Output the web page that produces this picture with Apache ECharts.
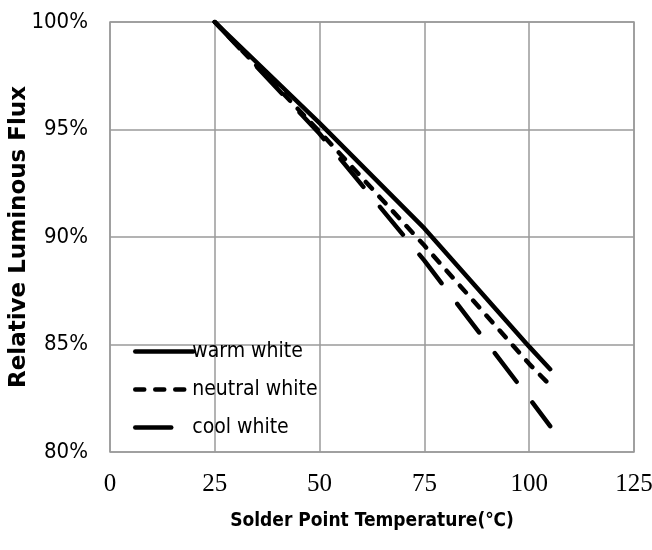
<!DOCTYPE html>
<html>
<head>
<meta charset="utf-8">
<script src="https://cdn.jsdelivr.net/npm/echarts@6/dist/echarts.min.js"></script>
<style>html,body{margin:0;padding:0;background:#fff}#c{width:652px;height:550px}</style>
</head>
<body>
<div id="c"></div>
<script>
var temps = [25, 50, 75, 100, 105];
var warmWhite = [100, 95.3, 90.4, 84.9, 83.85];
var neutralWhite = [100, 94.9, 89.6, 84.1, 83.1];
var coolWhite = [100, 94.8, 88.9, 82.5, 81.2];
var seriesNames = ['warm white', 'neutral white', 'cool white'];

function pairs(ys) { return temps.map(function (t, i) { return [t, ys[i]]; }); }

var chart = echarts.init(document.getElementById('c'));
var narrow = '"Liberation Sans Narrow", "DejaVu Sans Condensed", "Open Sans", sans-serif';
var lw = 4.5;
chart.setOption({
  animation: false,
  grid: { left: 110, right: 18, top: 22, bottom: 98, show: true, borderColor: '#9a9a9a', borderWidth: 1.5, outerBoundsMode: 'none', containLabel: false },
  legend: {
    orient: 'vertical', left: 128, top: 336, itemWidth: 58, itemHeight: 20, itemGap: 17,
    data: seriesNames,
    itemStyle: { opacity: 0 },
    lineStyle: { width: lw, cap: 'round' },
    textStyle: { fontFamily: narrow, fontSize: 21, color: '#000', padding: [0, 0, 0, -6] }
  },
  xAxis: {
    type: 'value', min: 0, max: 125, interval: 25,
    name: 'Solder Point Temperature(℃)', nameLocation: 'middle', nameGap: 60, nameMoveOverlap: false,
    nameTextStyle: { fontFamily: narrow, fontWeight: 'bold', fontSize: 19, color: '#000' },
    axisLine: { show: false }, axisTick: { show: false },
    axisLabel: { fontFamily: '"Liberation Serif", serif', fontSize: 25, color: '#000', margin: 20 },
    splitLine: { lineStyle: { color: '#9a9a9a', width: 1.5 } }
  },
  yAxis: {
    type: 'value', min: 80, max: 100, interval: 5,
    name: 'Relative Luminous Flux', nameLocation: 'middle', nameGap: 79, nameMoveOverlap: false,
    nameTextStyle: { fontFamily: '"DejaVu Sans", sans-serif', fontWeight: 'bold', fontSize: 23, color: '#000' },
    axisLine: { show: false }, axisTick: { show: false },
    axisLabel: { formatter: '{value}%', fontFamily: narrow, fontSize: 22, color: '#000', margin: 22 },
    splitLine: { lineStyle: { color: '#9a9a9a', width: 1.5 } }
  },
  series: [
    { name: seriesNames[0], type: 'line', data: pairs(warmWhite), symbol: 'none', color: '#000',
      lineStyle: { color: '#000', width: lw, type: 'solid', cap: 'round' } },
    { name: seriesNames[1], type: 'line', data: pairs(neutralWhite), symbol: 'none', color: '#000',
      lineStyle: { color: '#000', width: lw, type: [9, 11], cap: 'round' } },
    { name: seriesNames[2], type: 'line', data: pairs(coolWhite), symbol: 'none', color: '#000',
      lineStyle: { color: '#000', width: lw, type: [36, 26], cap: 'round' } }
  ]
});
</script>
</body>
</html>
